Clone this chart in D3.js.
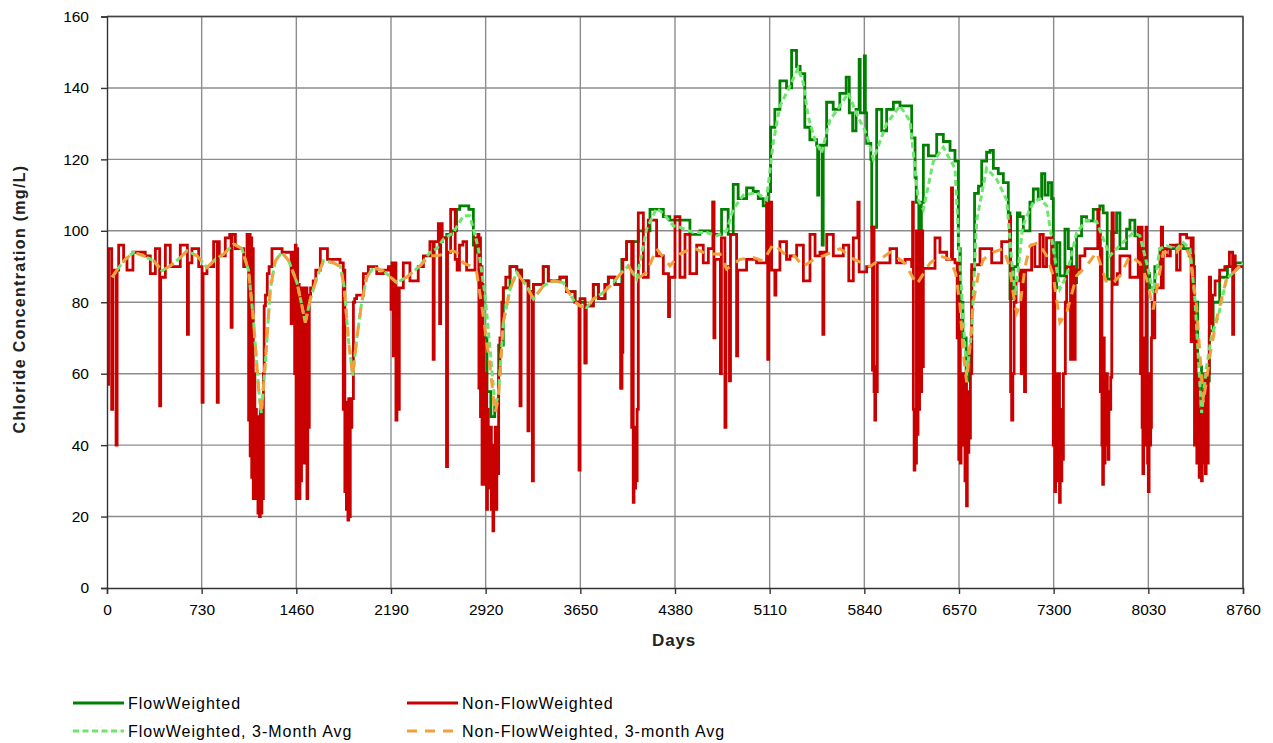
<!DOCTYPE html>
<html>
<head>
<meta charset="utf-8">
<style>
  body{ margin:0; background:#fff; font-family:"Liberation Sans", Arial, sans-serif; }
  .grid line{ stroke:#8c8c8c; stroke-width:1.4px; }
  .axis text{ font-size:15.5px; fill:#000; }
  .axis path, .axis line{ stroke:#333; stroke-width:1.4px; }
  .title{ font-size:16px; font-weight:bold; fill:#222; }
  .legend text{ font-size:16px; fill:#000; letter-spacing:1px; }
</style>
<script src="https://d3js.org/d3.v7.min.js"></script>
</head>
<body>
<div id="chart"></div>
<script>
// x ticks (days) and y ticks (mg/L)
const dayTicks = [0, 730, 1460, 2190, 2920, 3650, 4380, 5110, 5840, 6570, 7300, 8030, 8760];
const concTicks = [0, 20, 40, 60, 80, 100, 120, 140, 160];

const seriesNames = ['FlowWeighted', 'Non-FlowWeighted', 'FlowWeighted, 3-Month Avg', 'Non-FlowWeighted, 3-month Avg'];

// Non-flow weighted, [day, mg/L], step series
const nonFlow = [
  [0,95],[5,57],[12,95],[36,50],[44,89],[70,40],[78,89],[90,96],[128,92],[154,89],[200,94],[295,93],
  [334,88],[373,95],[406,51],[414,87],[450,96],[488,90],[565,96],[620,71],[628,91],[655,95],[707,90],
  [733,52],[741,88],[771,90],[822,97],[850,52],[858,97],[866,93],[912,98],[946,99],[957,73],[965,99],
  [990,95],[1054,90],[1080,99],[1092,47],[1098,99],[1104,37],[1110,98],[1116,31],[1122,95],[1128,25],
  [1134,60],[1140,31],[1146,50],[1152,25],[1158,48],[1164,21],[1170,45],[1176,20],[1182,50],[1188,21],
  [1194,48],[1200,25],[1206,60],[1212,79],[1222,82],[1236,88],[1250,90],
  [1272,95],[1350,94],[1420,74],[1428,94],[1447,60],[1452,96],[1458,25],[1464,95],[1470,40],[1476,85],
  [1482,25],[1488,84],[1494,30],[1500,84],[1506,48],[1512,84],[1518,35],[1524,80],[1530,44],[1536,84],
  [1542,25],[1548,82],[1554,45],[1560,82],[1570,84],[1590,86],
  [1610,89],[1645,95],[1700,92],[1797,91],[1822,50],[1828,89],[1834,27],[1840,52],[1846,22],[1852,50],
  [1858,19],[1864,53],[1870,20],[1876,53],[1882,45],[1888,53],[1900,80],[1910,81],[1925,82],[1977,88],
  [2015,90],[2080,88],[2131,89],
  [2170,90],[2190,78],[2198,91],[2208,65],[2216,91],[2228,47],[2236,84],[2246,50],[2254,84],[2285,91],
  [2336,86],[2400,90],[2440,93],[2490,97],[2515,64],[2523,97],[2555,102],[2565,74],[2573,102],[2585,98],
  [2618,34],[2626,94],[2650,106],[2685,92],[2700,89],[2718,96],[2745,97],[2773,89],[2838,98],[2860,99],
  [2868,56],[2874,98],[2880,48],[2886,90],[2892,29],[2898,70],[2904,40],[2910,60],[2916,29],[2922,60],
  [2928,22],[2934,50],[2940,35],[2946,45],[2952,28],[2958,45],[2964,22],[2970,40],[2976,16],[2982,40],
  [2988,25],[2994,45],[3000,22],[3006,45],[3012,32],[3020,60],[3030,70],[3045,80],
  [3056,84],[3075,87],[3108,90],[3160,89],[3185,51],[3193,89],[3197,86],[3246,44],[3254,83],[3280,30],
  [3288,85],[3364,90],[3403,86],[3493,87],[3544,83],[3609,80],[3640,33],[3648,81],[3686,63],[3694,79],
  [3750,85],[3789,81],[3840,85],[3866,87],[3917,85],[3962,56],[3970,66],[3978,92],[4007,97],[4046,45],
  [4052,97],[4058,24],[4064,40],[4070,28],[4076,45],[4082,30],[4088,50],[4097,105],[4136,87],[4174,103],
  [4238,93],[4290,88],
  [4330,76],[4338,87],[4380,104],[4418,87],[4457,99],[4495,88],[4547,96],[4598,91],[4637,95],[4672,108],
  [4680,70],[4688,92],[4730,60],[4738,98],[4765,45],[4773,90],[4800,58],[4808,99],[4855,65],[4863,89],
  [4932,92],[5009,91],[5086,108],[5095,64],[5103,108],[5125,89],[5150,82],[5158,89],[5189,97],[5240,92],
  [5267,93],[5318,96],[5370,86],[5421,99],[5460,93],[5498,94],[5520,71],[5528,94],[5550,99],[5601,93],
  [5678,96],[5720,86],[5755,98],[5790,108],[5800,88.5],[5858,90],[5897,101],[5903,61],[5909,101],
  [5915,55],[5921,47],[5927,62],[5933,55],[5940,91],[6038,95],[6089,91],[6154,92],[6205,90],[6212,108],
  [6218,50],[6224,33],[6230,45],[6236,35],[6242,100],[6248,43],[6254,100],[6260,50],[6266,100],[6274,55],
  [6282,100],[6290,62],[6295,89.5],[6385,98],[6423,94],
  [6475,92],[6512,112],[6520,92],[6539,91],[6556,70],[6562,91],[6568,36],[6574,75],[6580,35],[6586,60],
  [6592,40],[6598,60],[6604,42],[6610,60],[6616,30],[6622,60],[6628,23],[6634,50],[6640,38],[6646,55],
  [6652,42],[6658,60],[6668,90.5],[6732,95],[6822,91],[6899,97],
  [6960,104],[6968,55],[6976,47],[6985,60],[6995,80],[7010,86],[7040,89],[7050,60],[7060,89],[7075,55],
  [7083,89],[7130,96],[7155,90],[7194,99],[7220,90],[7245,98],[7284,90],[7297,40],[7303,90],[7309,27],
  [7315,60],[7321,32],[7327,50],[7333,30],[7339,60],[7345,24],[7351,45],[7357,30],[7363,50],[7369,36],
  [7375,60],[7390,80],[7400,90],[7430,64],
  [7438,90],[7458,64],[7466,89],[7502,93],[7541,95],[7640,106],[7650,100],[7660,55],[7666,95],[7672,40],
  [7678,29],[7684,70],[7690,35],[7696,60],[7702,40],[7708,60],[7714,45],[7720,36],[7726,55],[7734,50],
  [7740,59],[7748,80],[7750,105],[7760,85],[7790,88],
  [7811,93],[7888,87],[7952,101],[7970,60],[7976,101],[7982,45],[7988,32],[7994,70],[8000,45],[8006,40],
  [8012,101],[8018,50],[8024,35],[8030,27],[8036,60],[8042,40],[8048,45],[8054,70],[8060,80],[8070,70],
  [8080,84],[8130,101],[8140,84],[8145,95],[8175,93],[8200,96],
  [8248,89],[8275,99],[8325,98],[8360,69],[8368,98],[8376,90],[8386,40],[8392,70],[8398,45],[8404,35],
  [8410,60],[8416,40],[8422,31],[8428,50],[8434,40],[8440,30],[8446,55],[8452,35],[8458,41],[8464,60],
  [8470,32],[8476,60],[8484,35],[8492,60],[8500,87],[8510,74],[8525,82],
  [8545,86],[8580,89],[8620,90],[8655,94],[8680,71],[8688,93],[8700,90],[8760,90]
];

// Flow weighted, [day, mg/L], step series (identical to non-flow weighted before ~2550)
const flowW = [
  [2550,97],[2585,98],[2620,99],[2655,100],[2696,106],[2720,107],[2790,106],[2825,96],[2850,94],
  [2870,85],[2900,70],[2930,55],[2960,48],[2990,52],[3020,68],[3056,84],[3108,90],[3160,89],[3197,86],
  [3254,83],[3288,85],[3364,90],[3403,86],[3493,87],[3544,83],[3609,80],[3686,63],[3694,79],[3750,85],
  [3789,81],[3840,85],[3866,87],[3917,85],[3962,56],[3970,92],[4007,97],[4046,97],[4097,100],[4136,100],
  [4187,106],[4290,104],[4340,103],[4392,103],[4495,99],[4572,100],[4672,108],[4680,99],[4739,106],
  [4790,99],[4829,113],[4867,109],[4932,112],[4983,111],[5022,109],[5060,107],[5099,111],[5117,129],
  [5150,134],[5189,142],[5240,140],[5279,150.5],[5317,146],[5345,144],[5381,129],[5420,125.5],[5472,124],
  [5480,110],[5488,124],[5515,96],[5523,124],[5549,136],[5600,134],[5651,138.5],[5700,143],[5724,133],
  [5750,128],[5776,134],[5800,148],[5808,133],[5840,149],[5848,133],[5858,124.5],[5890,120],[5897,101],
  [5935,134],
  [5974,128],[6012,134],[6064,136],[6115,135],[6154,135],[6205,126],[6231,115],[6240,108],[6260,100],
  [6280,108],[6295,124],[6334,121],[6398,127],[6449,125],[6501,122.5],[6539,119.5],[6565,95],[6580,80],
  [6600,70],[6625,58],[6650,65],[6668,89],[6690,110.5],[6720,112.5],[6745,119.5],[6783,122],[6810,122.5],
  [6835,117.5],[6873,116],[6912,113.5],[6950,105],[6963,81],[6990,90],[7020,105],[7040,104],[7066,100],
  [7117,108],[7143,111.7],[7181,109],[7207,116],[7232,110],[7258,113.5],[7284,109],[7297,84],[7323,96.7],
  [7348,87.4],[7387,100.5],[7413,95],[7438,85.5],[7477,98.6],[7515,104],[7554,102.8],[7605,106],
  [7656,107],[7682,105],[7713,86.5],[7747,99.5],[7785,105],[7811,95],[7862,100.5],[7888,103],[7926,98.6],
  [7965,95],[8000,88],[8040,84],[8080,90],[8120,95],[8180,95],[8250,96],[8300,95],[8345,93],[8380,80],
  [8410,62],[8440,50],[8470,58],[8500,72],[8530,80],[8580,87],[8640,90],[8700,91],[8760,91]
];

// Flow weighted, 3-month average
const flowAvg = [
  [40,87],[90,89.7],[141,92],[205,94],[283,93],[360,91.6],[424,88.8],[488,90.2],[565,92.5],[617,94.4],
  [694,93],[771,89.7],[835,92],[900,93.5],[977,96.3],[1041,95],[1092,88.8],[1131,74.3],[1169,55.7],
  [1190,49],[1221,63],[1259,83.7],[1298,91.6],[1349,94],[1401,91.6],[1465,85.5],[1503,79],[1529,74.3],
  [1568,80.9],[1619,87],[1670,91.6],[1748,91],[1800,90],[1830,84],[1861,69.7],[1895,59.4],[1926,69.7],
  [1964,80],[2003,87],[2054,89.7],[2131,88.8],[2234,85.5],[2311,87],[2414,90.2],[2491,94],[2542,95],
  [2594,97.7],[2671,99.5],[2748,104.2],[2799,104.2],[2864,95],[2915,82],[2954,67],[2992,51],[3018,53.8],
  [3056,74.3],[3108,83.7],[3159,88.3],[3236,84.6],[3288,80.9],[3365,84.6],[3442,86],[3519,85.5],
  [3544,83.7],[3609,80],[3647,79],[3699,78.5],[3750,80.9],[3827,82.7],[3904,85.5],[3968,88.3],[4020,90.2],
  [4084,86.5],[4161,100.5],[4238,106.3],[4290,104.9],[4367,101.4],[4418,101],[4521,99.5],[4624,99.5],
  [4701,98.6],[4778,100],[4829,106],[4907,110],[5009,110.7],[5086,108.7],[5137,124.6],[5189,134.9],
  [5266,140.5],[5330,145.6],[5369,141.4],[5407,132],[5459,125.5],[5510,121.8],[5574,131],[5651,134.9],
  [5716,138.6],[5781,132.7],[5858,127],[5910,120],[6012,130],[6115,135],[6192,130.7],[6256,108.6],
  [6295,106],[6372,119.4],[6449,123.4],[6539,117.5],[6578,90],[6629,59.5],[6668,72],[6706,102.8],
  [6783,117.5],[6860,114.5],[6938,108.6],[6975,92],[7005,82],[7035,92],[7060,101],[7091,104],[7143,108],
  [7194,109],[7246,107],[7297,95],[7348,83.7],[7400,87.4],[7477,99.5],[7554,103],[7631,102.6],[7683,97.7],
  [7734,93],[7785,95],[7862,97.7],[7914,99.5],[7965,98.6],[8017,91],[8068,82.7],[8119,95],[8171,95.8],
  [8248,95],[8299,96.7],[8351,95],[8389,81],[8441,49],[8479,62],[8518,70.6],[8569,76],[8633,86.5],
  [8685,88.3],[8760,91]
];

// Non-flow weighted, 3-month average
const nonFlowAvg = [
  [40,87],[90,89.7],[141,92],[205,94],[283,93],[360,91.6],[424,88.8],[488,90.2],[565,92.5],[617,94.4],
  [694,93],[771,89.7],[835,92],[900,93.5],[977,96.3],[1041,95],[1092,88.8],[1131,74.3],[1169,55.7],
  [1190,49],[1221,63],[1259,83.7],[1298,91.6],[1349,94],[1401,91.6],[1465,85.5],[1503,79],[1529,74.3],
  [1568,80.9],[1619,87],[1670,91.6],[1748,91],[1800,90],[1830,84],[1861,69.7],[1895,59.4],[1926,69.7],
  [1964,80],[2003,87],[2054,89.7],[2131,88.8],[2234,85.5],[2311,87],[2414,90.2],[2491,93],[2542,93],
  [2607,93.5],[2658,94.4],[2697,94],[2748,91],[2799,90.2],[2851,88.3],[2902,76],[2954,62],[2992,49],
  [3018,53],[3056,74.3],[3108,83.7],[3159,88.3],[3236,84.6],[3288,80.9],[3365,84.6],[3442,86],[3519,85.5],
  [3544,83.7],[3609,80],[3647,79],[3699,78.5],[3750,80.9],[3827,82.7],[3904,85.5],[3968,88.3],[4020,90.2],
  [4084,86.5],[4161,88.3],[4238,95],[4341,90.2],[4418,93.5],[4521,95.3],[4624,93.5],[4727,93.5],
  [4778,89.3],[4881,92],[4984,92.5],[5061,91.6],[5138,96.3],[5241,93],[5300,93],[5370,90],[5450,92],
  [5524,93],[5652,95],[5760,92],[5884,90],[5960,92],[6038,94],[6150,91],[6244,85],[6347,91],[6420,93],
  [6500,92],[6545,88],[6578,79],[6605,65],[6629,57.6],[6655,68],[6680,80],[6720,88],[6758,92],[6830,94],
  [6912,95],[6960,90],[6990,82],[7015,77],[7040,79],[7080,90],[7117,95.8],[7181,96.7],[7246,93],
  [7297,87.4],[7348,74.3],[7400,77],[7477,87.4],[7554,90.2],[7631,94],[7708,85.5],[7760,85.5],[7811,87.4],
  [7888,93],[7965,91],[8017,86.5],[8068,78],[8145,94],[8248,94],[8299,96.3],[8351,93],[8402,79],[8454,52],
  [8505,65],[8556,75.3],[8633,86.5],[8736,90],[8760,90.5]
];

const W = 1273, H = 743;
const plotLeft = 107, plotRight = 1243, plotTop = 16.5, plotBottom = 588;

const svg = d3.select('#chart').append('svg')
  .attr('width', W).attr('height', H);

const x = d3.scaleLinear().domain([0, 8760]).range([plotLeft, plotRight]);
const y = d3.scaleLinear().domain([0, 160]).range([plotBottom, plotTop]);

// grid
const grid = svg.append('g').attr('class', 'grid');
grid.selectAll('.gy').data(concTicks.slice(1)).join('line')
  .attr('x1', plotLeft).attr('x2', plotRight)
  .attr('y1', d => y(d)).attr('y2', d => y(d));
grid.selectAll('.gx').data(dayTicks.slice(1)).join('line')
  .attr('y1', plotTop).attr('y2', plotBottom)
  .attr('x1', d => x(d)).attr('x2', d => x(d));

// plot frame top/right
svg.append('path')
  .attr('d', `M${plotLeft},${plotTop}H${plotRight}V${plotBottom}`)
  .attr('fill', 'none').attr('stroke', '#444').attr('stroke-width', 1.4);

svg.append('clipPath').attr('id', 'plot')
  .append('rect').attr('x', plotLeft).attr('y', plotTop - 2)
  .attr('width', plotRight - plotLeft).attr('height', plotBottom - plotTop + 2);

const plot = svg.append('g').attr('clip-path', 'url(#plot)');

const stepLine = d3.line().x(d => x(d[0])).y(d => y(d[1])).curve(d3.curveStepAfter);
const avgLine = d3.line().x(d => x(d[0])).y(d => y(d[1]));

plot.append('path').datum(flowW)
  .attr('d', stepLine).attr('fill', 'none')
  .attr('stroke', '#008000').attr('stroke-width', 2.8);

plot.append('path').datum(nonFlow)
  .attr('d', stepLine).attr('fill', 'none')
  .attr('stroke', '#c80000').attr('stroke-width', 2.8);

plot.append('path').datum(flowAvg)
  .attr('d', avgLine).attr('fill', 'none')
  .attr('stroke', '#6ee66e').attr('stroke-width', 3)
  .attr('stroke-dasharray', '6,3.5');

plot.append('path').datum(nonFlowAvg)
  .attr('d', avgLine).attr('fill', 'none')
  .attr('stroke', '#f3a03c').attr('stroke-width', 3)
  .attr('stroke-dasharray', '10,8');

// axes
svg.append('g').attr('class', 'axis')
  .attr('transform', `translate(${plotLeft},0)`)
  .call(d3.axisLeft(y).tickValues(concTicks).tickSize(6).tickPadding(12));

svg.append('g').attr('class', 'axis')
  .attr('transform', `translate(0,${plotBottom})`)
  .call(d3.axisBottom(x).tickValues(dayTicks).tickSize(6).tickPadding(10).tickFormat(d3.format('d')));

svg.append('text').attr('class', 'title')
  .attr('transform', 'translate(25,299) rotate(-90)')
  .attr('text-anchor', 'middle')
  .style('letter-spacing', '1.3px')
  .text('Chloride Concentration  (mg/L)');

svg.append('text').attr('class', 'title')
  .attr('x', 674).attr('y', 646)
  .attr('text-anchor', 'middle')
  .style('font-size', '17px')
  .style('letter-spacing', '0.8px')
  .text('Days');

// legend
const legendItems = [
  {name: seriesNames[0], color: '#008000', dash: null, x: 73, y: 703},
  {name: seriesNames[1], color: '#c80000', dash: null, x: 407, y: 703},
  {name: seriesNames[2], color: '#6ee66e', dash: '6,3.5', x: 73, y: 731},
  {name: seriesNames[3], color: '#f3a03c', dash: '10,8', x: 407, y: 731}
];
const lg = svg.append('g').attr('class', 'legend')
  .selectAll('g').data(legendItems).join('g')
  .attr('transform', d => `translate(${d.x},${d.y})`);
lg.append('line').attr('x1', 0).attr('x2', 51)
  .attr('stroke', d => d.color).attr('stroke-width', 3)
  .attr('stroke-dasharray', d => d.dash);
lg.append('text').attr('x', 55).attr('y', 5.5).text(d => d.name);
</script>
</body>
</html>
